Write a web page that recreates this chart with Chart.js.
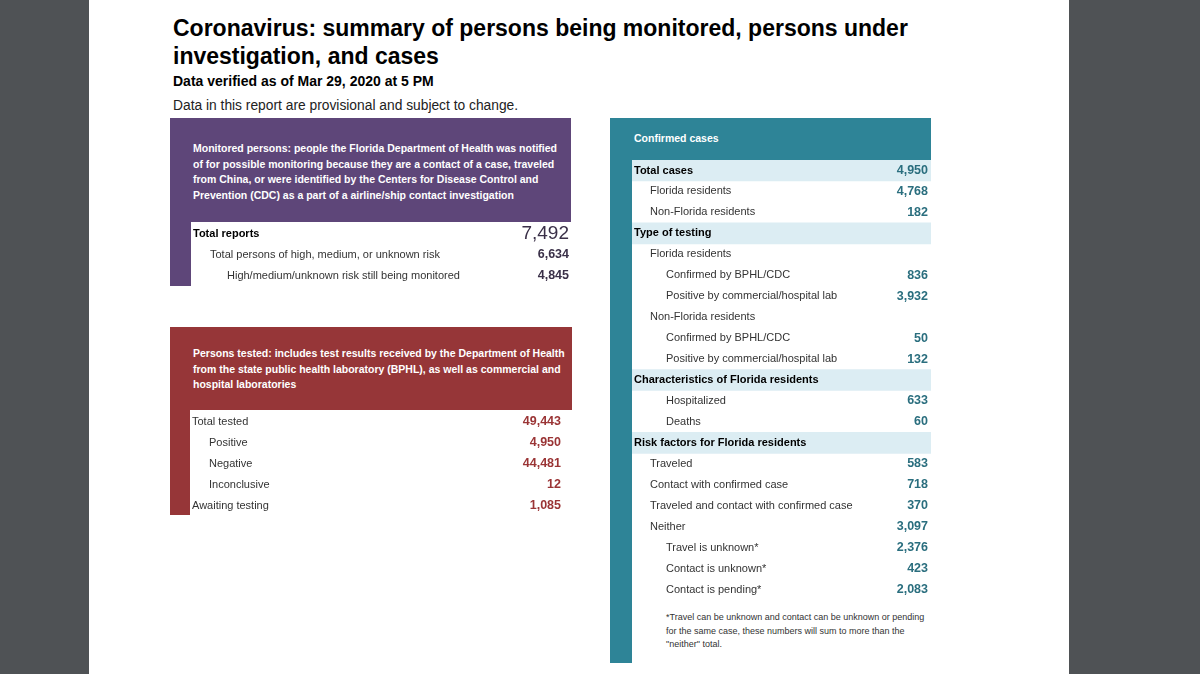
<!DOCTYPE html>
<html>
<head>
<meta charset="utf-8">
<script src="https://cdn.jsdelivr.net/npm/chart.js@4"></script>
<style>
  html, body { margin: 0; padding: 0; }
  body { width: 1200px; height: 674px; background: #4f5255; position: relative; overflow: hidden;
         font-family: "Liberation Sans", Arial, sans-serif; }
  #page { position: absolute; left: 89px; top: 0; width: 980px; height: 674px; background: #fff; }
  .abs { position: absolute; }
  .title { left: 173px; top: 14px; font-size: 23px; font-weight: bold; line-height: 28px; color: #000; }
  .verified { left: 173px; top: 73px; font-size: 14px; font-weight: bold; color: #000; }
  .note { left: 173px; top: 98px; font-size: 13.8px; color: #222; }
  .head { color: #fff; font-weight: bold; font-size: 10.5px; line-height: 15.5px; }
  canvas { position: absolute; }
</style>
</head>
<body>
<div id="page"></div>

<div class="abs title">Coronavirus: summary of persons being monitored, persons under<br>investigation, and cases</div>
<div class="abs verified">Data verified as of Mar 29, 2020 at 5 PM</div>
<div class="abs note">Data in this report are provisional and subject to change.</div>

<!-- monitored persons panel -->
<div class="abs" style="left:170px;top:118px;width:401px;height:104px;background:#5e4679"></div>
<div class="abs" style="left:170px;top:222px;width:21px;height:64px;background:#5e4679"></div>
<div class="abs head" style="left:193px;top:141px">Monitored persons: people the Florida Department of Health was notified<br>of for possible monitoring because they are a contact of a case, traveled<br>from China, or were identified by the Centers for Disease Control and<br>Prevention (CDC) as a part of a airline/ship contact investigation</div>
<canvas id="monitoredChart" width="380" height="63" style="left:191px;top:222.5px"></canvas>

<!-- persons tested panel -->
<div class="abs" style="left:170px;top:327px;width:402px;height:83px;background:#963638"></div>
<div class="abs" style="left:170px;top:410px;width:20px;height:105px;background:#963638"></div>
<div class="abs head" style="left:193px;top:346px">Persons tested: includes test results received by the Department of Health<br>from the state public health laboratory (BPHL), as well as commercial and<br>hospital laboratories</div>
<canvas id="testedChart" width="382" height="105" style="left:190px;top:410.5px"></canvas>

<!-- confirmed cases panel -->
<div class="abs" style="left:610px;top:118px;width:321px;height:42px;background:#2e8497"></div>
<div class="abs" style="left:610px;top:160px;width:22px;height:503px;background:#2e8497"></div>
<div class="abs head" style="left:634px;top:131px">Confirmed cases</div>
<canvas id="casesChart" width="299" height="440" style="left:632px;top:159.5px"></canvas>
<div class="abs" style="left:666px;top:611px;font-size:9px;line-height:13.5px;color:#333">*Travel can be unknown and contact can be unknown or pending<br>for the same case, these numbers will sum to more than the<br>"neither" total.</div>

<script>
// ---- data ----
const monitoredLabels = ['Total reports', 'Total persons of high, medium, or unknown risk', 'High/medium/unknown risk still being monitored'];
const monitoredValues = [7492, 6634, 4845];

const testedLabels = ['Total tested', 'Positive', 'Negative', 'Inconclusive', 'Awaiting testing'];
const testedValues = [49443, 4950, 44481, 12, 1085];

const casesLabels = [
    'Total cases', 'Florida residents', 'Non-Florida residents',
    'Type of testing', 'Florida residents', 'Confirmed by BPHL/CDC', 'Positive by commercial/hospital lab',
    'Non-Florida residents', 'Confirmed by BPHL/CDC', 'Positive by commercial/hospital lab',
    'Characteristics of Florida residents', 'Hospitalized', 'Deaths',
    'Risk factors for Florida residents', 'Traveled', 'Contact with confirmed case',
    'Traveled and contact with confirmed case', 'Neither', 'Travel is unknown*',
    'Contact is unknown*', 'Contact is pending*'
];
const casesValues = [
    4950, 4768, 182,
    null, null, 836, 3932,
    null, 50, 132,
    null, 633, 60,
    null, 583, 718,
    370, 3097, 2376,
    423, 2083
];
// row structure (indent level, section header rows)
const monitoredLevel = [0, 1, 2];
const testedLevel = [0, 1, 1, 1, 0];
const casesLevel = [0, 1, 1, 0, 1, 2, 2, 1, 2, 2, 0, 2, 2, 0, 1, 1, 1, 1, 2, 2, 2];
const casesSection = [1, 0, 0, 1, 0, 0, 0, 0, 0, 0, 1, 0, 0, 1, 0, 0, 0, 0, 0, 0, 0];

const FONT = '"Liberation Sans", Arial, sans-serif';

// draws the row text at the category positions of the y scale
const rowTextPlugin = {
    id: 'rowText',
    afterDatasetsDraw(chart, args, opts) {
        const ctx = chart.ctx;
        const area = chart.chartArea;
        const yScale = chart.scales.y;
        const labels = chart.data.labels;
        const values = chart.data.datasets[0].data;
        ctx.save();
        ctx.textBaseline = 'middle';
        labels.forEach(function(label, i) {
            const y = yScale.getPixelForValue(i);
            const level = opts.level[i];
            const bold = opts.boldRows.includes(i);
            ctx.textAlign = 'left';
            ctx.fillStyle = bold ? '#000' : '#333';
            ctx.font = (bold ? 'bold ' : '') + '11px ' + FONT;
            ctx.fillText(label, area.left + 2 + level * opts.indent, y);
            if (values[i] !== null) {
                ctx.textAlign = 'right';
                ctx.fillStyle = opts.valueColor;
                if (opts.bigRows.includes(i)) {
                    ctx.font = '19px ' + FONT;
                } else {
                    ctx.font = 'bold 12.5px ' + FONT;
                }
                ctx.fillText(values[i].toLocaleString('en-US'), area.right - opts.rightPad, y);
            }
        });
        ctx.restore();
    }
};

function makeTable(id, labels, values, textOpts, bands) {
    const datasets = [{
        data: values,
        backgroundColor: 'rgba(0,0,0,0)',
        xAxisID: 'x'
    }];
    const scales = {
        y: { type: 'category', display: false, offset: true },
        x: { type: 'linear', display: false, beginAtZero: true }
    };
    if (bands) {
        datasets.push({
            data: bands.map(function(b) { return b ? 1 : null; }),
            backgroundColor: '#dcedf3',
            xAxisID: 'band',
            order: 2
        });
        scales.band = { type: 'linear', axis: 'x', position: 'bottom', display: false, min: 0, max: 1 };
    }
    const ctx = document.getElementById(id).getContext('2d');
    return new Chart(ctx, {
        type: 'bar',
        data: { labels: labels, datasets: datasets },
        options: {
            indexAxis: 'y',
            responsive: false,
            animation: false,
            devicePixelRatio: 1,
            layout: { padding: 0 },
            datasets: { bar: { grouped: false, barPercentage: 1, categoryPercentage: 1 } },
            plugins: { legend: { display: false }, tooltip: { enabled: false }, rowText: textOpts },
            scales: scales
        },
        plugins: [rowTextPlugin]
    });
}

makeTable('monitoredChart', monitoredLabels, monitoredValues,
    { level: monitoredLevel, indent: 17, boldRows: [0], bigRows: [0], valueColor: '#3a3048', rightPad: 2 });
makeTable('testedChart', testedLabels, testedValues,
    { level: testedLevel, indent: 17, boldRows: [], bigRows: [], valueColor: '#9a3435', rightPad: 11 });
makeTable('casesChart', casesLabels, casesValues,
    { level: casesLevel, indent: 16, boldRows: [0, 3, 10, 13], bigRows: [], valueColor: '#2a6e7e', rightPad: 3 },
    casesSection);
</script>
</body>
</html>
